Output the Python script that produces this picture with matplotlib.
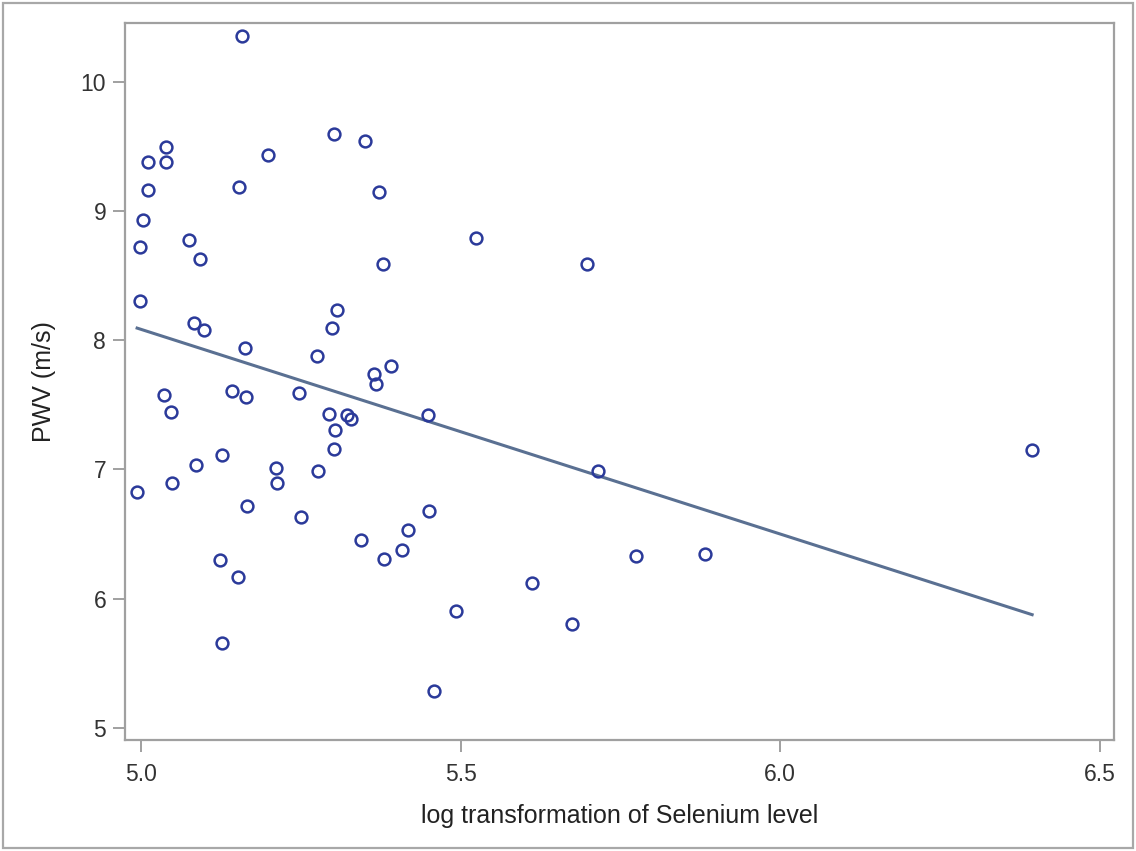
"""
Scatter of pulse wave velocity against log selenium level, with the
fitted regression line drawn over the observed x range.
"""
import numpy as np
import matplotlib
matplotlib.use("Agg")
import matplotlib.pyplot as plt
import matplotlib.patches as mpatches

plt.rcParams['font.family'] = ['Liberation Sans', 'DejaVu Sans']

# values
log_selenium = [
    5.158, 5.039, 5.011, 5.039, 5.011, 5.003, 4.998, 5.075, 5.092, 5.153,
    5.199, 5.302, 5.350, 5.372, 5.379, 5.524, 5.698, 4.998, 5.083, 5.099,
    5.163, 5.307, 5.299, 5.275, 5.364, 5.368, 5.391, 5.036, 5.047, 5.142,
    5.164, 5.247, 5.294, 5.322, 5.328, 5.303, 5.302, 5.449, 5.715, 6.394,
    4.994, 5.048, 5.086, 5.127, 5.211, 5.213, 5.277, 5.166, 5.250, 5.124,
    5.152, 5.127, 5.344, 5.380, 5.408, 5.418, 5.450, 5.493, 5.458, 5.612,
    5.674, 5.774, 5.882,
]
pwv = [
    10.356, 9.497, 9.380, 9.380, 9.163, 8.930, 8.720, 8.776, 8.629, 9.187,
    9.435, 9.597, 9.543, 9.148, 8.590, 8.792, 8.590, 8.304, 8.133, 8.079,
    7.940, 8.234, 8.094, 7.878, 7.738, 7.661, 7.800, 7.575, 7.444, 7.607,
    7.560, 7.591, 7.428, 7.421, 7.390, 7.304, 7.157, 7.421, 6.987, 7.150,
    6.824, 6.894, 7.033, 7.111, 7.010, 6.894, 6.987, 6.716, 6.630, 6.297,
    6.166, 5.654, 6.452, 6.305, 6.375, 6.530, 6.677, 5.902, 5.283, 6.119,
    5.802, 6.328, 6.344,
]
# regression line as drawn in the reference
fit_intercept_at5 = 8.085
fit_slope = -1.585

x_ticks = [5.0, 5.5, 6.0, 6.5]
x_ticklabels = ["5.0", "5.5", "6.0", "6.5"]
y_ticks = [5, 6, 7, 8, 9, 10]

x = np.array(log_selenium)
y = np.array(pwv)

fig = plt.figure(figsize=(11.36, 8.51), dpi=100)
ax = fig.add_axes([0.110, 0.1304, 0.8706, 0.8426])

line_x = np.array([x.min(), x.max()])
ax.plot(line_x, fit_intercept_at5 + fit_slope * (line_x - 5.0),
        color='#5a7092', lw=2.2, zorder=2)
ax.plot(x, y, 'o', mfc='none', mec='#2b3a9a', mew=1.8, ms=8.5, zorder=3)

ax.set_xlim(4.975, 6.522)
ax.set_ylim(4.905, 10.457)
ax.set_xticks(x_ticks)
ax.set_xticklabels(x_ticklabels)
ax.set_yticks(y_ticks)

for s in ax.spines.values():
    s.set_color('#a0a0a0')
    s.set_linewidth(1.6)
ax.tick_params(axis='both', colors='#a0a0a0', length=8.5, width=1.4,
               labelsize=16.5, labelcolor='#333333')
ax.tick_params(axis='x', pad=8)
ax.tick_params(axis='y', pad=5)

ax.set_xlabel('log transformation of Selenium level', fontsize=18,
              color='#222222', labelpad=13)
ax.set_ylabel('PWV (m/s)', fontsize=18, color='#222222', labelpad=18)

# outer grey frame around the whole graph
fig.patches.append(mpatches.Rectangle(
    (3 / 1136, 3 / 851), 1 - 6 / 1136, 1 - 6 / 851, transform=fig.transFigure,
    fill=False, edgecolor='#a8a8a8', linewidth=1.6))

fig.savefig('out.png', dpi=100)
